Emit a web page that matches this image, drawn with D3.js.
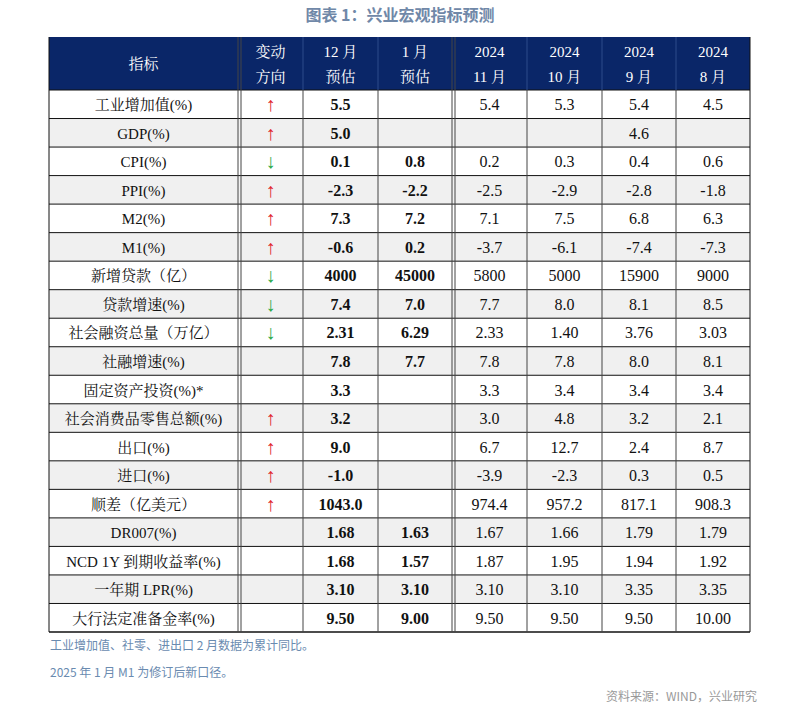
<!DOCTYPE html>
<html><head><meta charset="utf-8">
<script src="https://cdn.jsdelivr.net/npm/d3@7"></script>
<style>body{margin:0;background:#fff}</style></head>
<body><svg id="c" width="800" height="708"></svg>
<script>
const headers1=["指标","变动","12 月","1 月","2024","2024","2024","2024"];
const headers2=["","方向","预估","预估","11 月","10 月","9 月","8 月"];
const indicators=["工业增加值(%)","GDP(%)","CPI(%)","PPI(%)","M2(%)","M1(%)","新增贷款（亿）","贷款增速(%)","社会融资总量（万亿）","社融增速(%)","固定资产投资(%)*","社会消费品零售总额(%)","出口(%)","进口(%)","顺差（亿美元）","DR007(%)","NCD 1Y 到期收益率(%)","一年期 LPR(%)","大行法定准备金率(%)"];
const directions=["↑","↑","↓","↑","↑","↑","↓","↓","↓","","","↑","↑","↑","↑","","","",""];
const dec=["5.5","5.0","0.1","-2.3","7.3","-0.6","4000","7.4","2.31","7.8","3.3","3.2","9.0","-1.0","1043.0","1.68","1.68","3.10","9.50"];
const jan=["","","0.8","-2.2","7.2","0.2","45000","7.0","6.29","7.7","","","","","","1.63","1.57","3.10","9.00"];
const nov=["5.4","","0.2","-2.5","7.1","-3.7","5800","7.7","2.33","7.8","3.3","3.0","6.7","-3.9","974.4","1.67","1.87","3.10","9.50"];
const oct=["5.3","","0.3","-2.9","7.5","-6.1","5000","8.0","1.40","7.8","3.4","4.8","12.7","-2.3","957.2","1.66","1.95","3.10","9.50"];
const sep=["5.4","4.6","0.4","-2.8","6.8","-7.4","15900","8.1","3.76","8.0","3.4","3.2","2.4","0.3","817.1","1.79","1.94","3.35","9.50"];
const aug=["4.5","","0.6","-1.8","6.3","-7.3","9000","8.5","3.03","8.1","3.4","2.1","8.7","0.5","908.3","1.79","1.92","3.35","10.00"];
</script>
<script>
(function(){
const svg=d3.select("#c");
const rows=indicators.map((k,i)=>[k,directions[i],dec[i],jan[i],nov[i],oct[i],sep[i],aug[i]]);
const colX=[49,238,303,378,452,527,602,676,750];
const T=37,headH=53,rowH=(632-90)/rows.length;
const y=d3.scaleLinear().domain([0,rows.length]).range([T+headH,T+headH+rowH*rows.length]);
const serif="'Liberation Serif','Times New Roman','Noto Serif CJK SC','Noto Sans CJK SC',serif";
svg.append("text").attr("x",400).attr("y",21).attr("text-anchor","middle").attr("font-family","'Noto Sans CJK SC',sans-serif").attr("font-weight","bold").attr("font-size",16).attr("fill","#7088a8").text("图表 1：兴业宏观指标预测");
svg.append("rect").attr("x",colX[0]).attr("y",T).attr("width",colX[8]-colX[0]).attr("height",headH).attr("fill","#0a2668");
headers1.forEach((h,j)=>{
  const cx=(colX[j]+colX[j+1])/2;
  if(j===0){svg.append("text").attr("x",cx).attr("y",T+headH/2+5).attr("text-anchor","middle").attr("fill","#fff").attr("font-family",serif).attr("font-size",15).text(h);return;}
  svg.append("text").attr("x",cx).attr("y",T+20).attr("text-anchor","middle").attr("fill","#fff").attr("font-family",serif).attr("font-size",15).text(h);
  svg.append("text").attr("x",cx).attr("y",T+45).attr("text-anchor","middle").attr("fill","#fff").attr("font-family",serif).attr("font-size",15).text(headers2[j]);
});
rows.forEach((r,i)=>{
  const y0=y(i);
  svg.append("rect").attr("x",colX[0]).attr("y",y0).attr("width",colX[8]-colX[0]).attr("height",rowH).attr("fill",i%2?"#f0f0f0":"#fff");
  r.forEach((v,j)=>{
    const cx=(colX[j]+colX[j+1])/2;
    const t=svg.append("text").attr("x",cx).attr("y",y0+rowH/2+6).attr("text-anchor","middle").attr("font-family",serif).attr("font-size",j===0?15:16).attr("fill","#111").text(v);
    if(j===1)t.attr("fill",v==="↑"?"#e0262b":"#2aa84a").attr("font-size",20).attr("y",y0+rowH/2+7);
    if(j===2||j===3)t.attr("font-weight","bold");
  });
  svg.append("line").attr("x1",colX[0]).attr("x2",colX[8]).attr("y1",y0).attr("y2",y0).attr("stroke","#111").attr("stroke-width",1);
});
const yb=y(rows.length);
svg.append("line").attr("x1",colX[0]).attr("x2",colX[8]).attr("y1",yb).attr("y2",yb).attr("stroke","#111").attr("stroke-width",1.5);
colX.forEach((x,j)=>{
  const y1=(j===0||j===8||j===1||j===4)?T:T+headH;
  svg.append("line").attr("x1",x).attr("x2",x).attr("y1",y1).attr("y2",yb).attr("stroke",j===0||j===8?"#111":"#444").attr("stroke-width",1);
  if(j===1||j===4) svg.append("line").attr("x1",x+3).attr("x2",x+3).attr("y1",T).attr("y2",yb).attr("stroke","#444").attr("stroke-width",1);
});
colX.slice(2,8).forEach(x=>{if(x!==colX[4])svg.append("line").attr("x1",x).attr("x2",x).attr("y1",T).attr("y2",T+headH).attr("stroke","#2c4a8a");});
const nf="'Noto Sans CJK SC','Noto Sans',sans-serif";
svg.append("text").attr("x",50).attr("y",650).attr("font-family",nf).attr("font-size",12).attr("fill","#6a8bb0").text("工业增加值、社零、进出口 2 月数据为累计同比。");
svg.append("text").attr("x",50).attr("y",677).attr("font-family",nf).attr("font-size",12).attr("fill","#6a8bb0").text("2025 年 1 月 M1 为修订后新口径。");
svg.append("text").attr("x",757).attr("y",701).attr("text-anchor","end").attr("font-family",nf).attr("font-size",12).attr("fill","#999").text("资料来源：WIND，兴业研究");
})();
</script></body></html>
